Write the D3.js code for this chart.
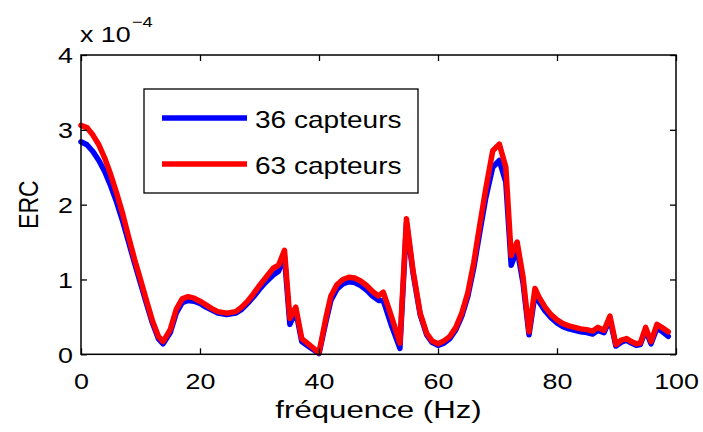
<!DOCTYPE html>
<html><head><meta charset="utf-8">
<script src="https://cdn.jsdelivr.net/npm/d3@7"></script>
<style>
body{margin:0;background:#fff;}
svg text{font-family:"Liberation Sans",Arial,Helvetica,sans-serif;fill:#000;}
</style></head>
<body><svg id="c" width="703" height="432"></svg>
<script>
const freq = [0,1,2,3,4,5,6,7,8,9,10,11,12,13,13.8,15,16,17,18,19,20,21,22,23,24.5,26,27,28,29,30,31,32.3,33.2,34.2,35.1,36.1,37.1,38.5,40,41.2,42,43,44,45,46,47,48,49,50,50.8,52.2,53.6,54.7,55.8,57,58.1,59,60,61,62,63,64,65,66,67,68,69.2,70.3,71.4,72.3,73.3,74.3,75.3,76.3,77,78,79,80,81,82,83,84,85,86,86.9,87.9,88.9,89.9,90.8,91.7,92.5,93.3,94,94.9,95.8,96.8,97.6,98.7];
const erc36 = [2.84,2.80,2.71,2.59,2.44,2.25,2.03,1.78,1.50,1.22,0.95,0.68,0.42,0.21,0.14,0.29,0.55,0.69,0.72,0.71,0.68,0.63,0.59,0.55,0.53,0.55,0.60,0.68,0.77,0.87,0.96,1.06,1.11,1.30,0.40,0.58,0.17,0.09,0.01,0.45,0.72,0.87,0.94,0.97,0.96,0.92,0.86,0.78,0.72,0.72,0.38,0.08,1.75,1.09,0.53,0.26,0.16,0.12,0.15,0.21,0.33,0.51,0.77,1.15,1.62,2.08,2.50,2.59,2.30,1.19,1.40,0.95,0.26,0.80,0.70,0.58,0.49,0.42,0.37,0.34,0.32,0.30,0.29,0.27,0.32,0.29,0.47,0.11,0.16,0.19,0.15,0.12,0.13,0.32,0.14,0.35,0.31,0.24];
const erc63 = [3.06,3.03,2.93,2.80,2.62,2.40,2.15,1.88,1.57,1.27,1.00,0.72,0.45,0.24,0.17,0.33,0.60,0.74,0.77,0.75,0.71,0.66,0.61,0.57,0.55,0.57,0.63,0.71,0.81,0.92,1.02,1.15,1.19,1.39,0.48,0.63,0.21,0.12,0.02,0.50,0.78,0.93,1.00,1.03,1.02,0.98,0.92,0.84,0.78,0.83,0.50,0.15,1.81,1.12,0.55,0.28,0.18,0.14,0.18,0.24,0.36,0.55,0.82,1.22,1.72,2.20,2.72,2.81,2.50,1.32,1.50,1.03,0.30,0.88,0.76,0.63,0.53,0.46,0.41,0.38,0.36,0.34,0.33,0.31,0.36,0.32,0.51,0.13,0.19,0.21,0.17,0.14,0.15,0.36,0.17,0.40,0.36,0.30];
const seriesNames = ["36 capteurs","63 capteurs"];
const seriesColors = ["#0000ff","#ff0000"];
const xTicks = [0,20,40,60,80,100];
const yTicks = [0,1,2,3,4];

const SX = 1.22; // horizontal text stretch
const L=81, R=676, T=55, B=354.3;
const svg = d3.select("#c");
const x = d3.scaleLinear().domain([0,100]).range([L,R]);
const y = d3.scaleLinear().domain([0,4]).range([B,T]);

// lines
const line = d3.line().x((d,i)=>x(freq[i])).y(d=>y(d));
[erc36, erc63].forEach((s,k)=>{
  svg.append("path").attr("d", line(s)).attr("fill","none")
    .attr("stroke", seriesColors[k]).attr("stroke-width",5.5)
    .attr("stroke-linejoin","round").attr("stroke-linecap","round");
});

// axes
const ax = d3.axisBottom(x).tickValues(xTicks).tickSize(-6).tickSizeOuter(0).tickPadding(0).tickFormat(d3.format("d"));
const gx = svg.append("g").attr("transform",`translate(0,${B})`).call(ax);
const axT = d3.axisTop(x).tickValues(xTicks).tickSize(-6).tickSizeOuter(0).tickFormat("");
svg.append("g").attr("transform",`translate(0,${T})`).call(axT);
const ay = d3.axisLeft(y).tickValues(yTicks).tickSize(-6).tickSizeOuter(0).tickFormat(d3.format("d"));
const gy = svg.append("g").attr("transform",`translate(${L},0)`).call(ay);
const ayR = d3.axisRight(y).tickValues(yTicks).tickSize(-6).tickSizeOuter(0).tickFormat("");
svg.append("g").attr("transform",`translate(${R},0)`).call(ayR);
svg.selectAll(".domain").remove();
svg.selectAll(".tick line").attr("stroke","#000").attr("stroke-width",1.3);
svg.append("rect").attr("x",L).attr("y",T).attr("width",R-L).attr("height",B-T)
  .attr("fill","none").attr("stroke","#000").attr("stroke-width",1.5);

gx.selectAll("text").attr("font-size",22).attr("y",0).attr("dy",null)
  .attr("transform",`translate(0,35) scale(${SX},1)`).attr("font-family",null);
gy.selectAll("text").attr("font-size",22).attr("x",0).attr("dy","0.36em")
  .attr("transform",`translate(-8,0) scale(${SX},1)`).attr("font-family",null);
svg.selectAll(".tick text").attr("fill","#000");

// axis labels
svg.append("text").attr("text-anchor","middle").attr("font-size",24)
  .attr("transform",`translate(${(L+R)/2},418) scale(1.3,1)`).text("fréquence (Hz)");
svg.append("text").attr("text-anchor","middle").attr("font-size",23)
  .attr("transform",`translate(38,${(T+B)/2}) scale(${SX},1) rotate(-90)`).text("ERC");

// exponent
const ex = svg.append("text").attr("font-size",22).attr("transform",`translate(80,42) scale(${SX},1)`);
ex.append("tspan").text("x 10");
ex.append("tspan").attr("font-size",15).attr("dy",-15).attr("dx",1).text("\u22124");

// legend
const lg = svg.append("g");
lg.append("rect").attr("x",144).attr("y",89).attr("width",274).attr("height",104)
  .attr("fill","#fff").attr("stroke","#000").attr("stroke-width",1.3);
const ly = [118,164];
seriesNames.forEach((n,k)=>{
  lg.append("line").attr("x1",162).attr("x2",247).attr("y1",ly[k]).attr("y2",ly[k])
    .attr("stroke",seriesColors[k]).attr("stroke-width",5.5);
  lg.append("text").attr("font-size",23).attr("transform",`translate(255,${ly[k]+10}) scale(${SX},1)`).text(n);
});
</script></body></html>
